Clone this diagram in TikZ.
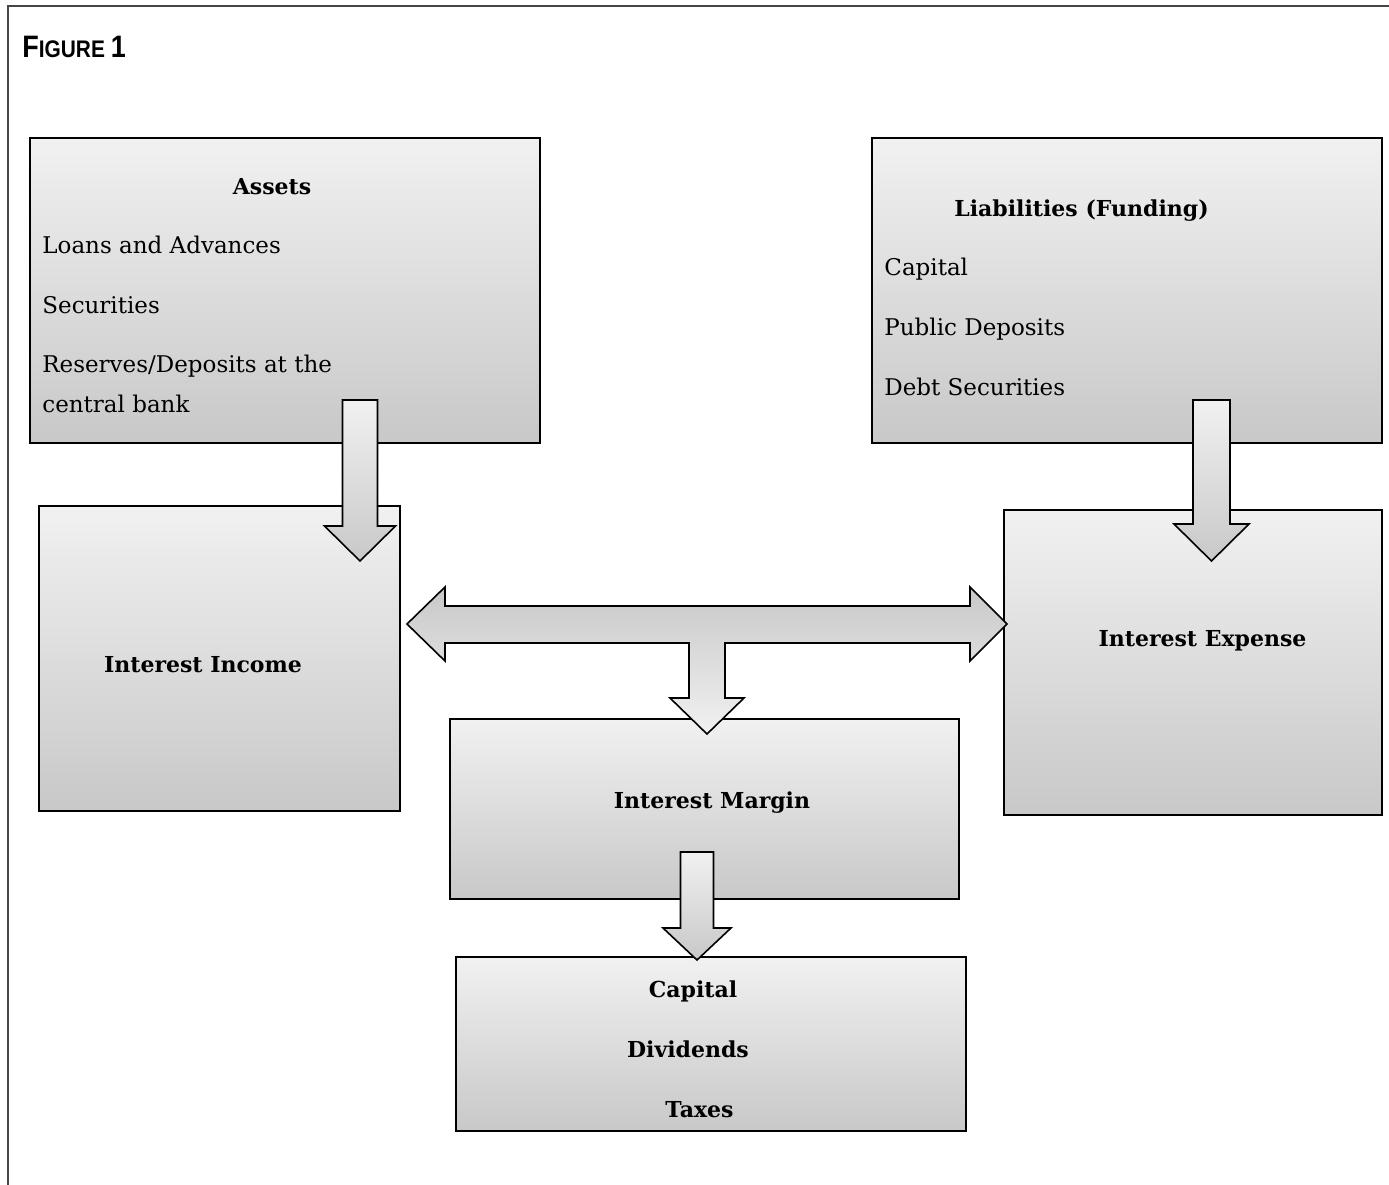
\documentclass[tikz,border=0pt]{standalone}
\usepackage{fontspec}
\setmainfont{DejaVu Serif}
\newfontfamily\titlefont{Liberation Sans}

\definecolor{boxtop}{RGB}{241,241,241}
\definecolor{boxbottom}{RGB}{200,200,200}
\definecolor{framegray}{RGB}{70,70,70}

\tikzset{
  box/.style={draw=black, line width=0.8pt, rectangle, inner sep=0pt,
    top color=boxtop, bottom color=boxbottom},
  item/.style={anchor=base west, inner sep=0pt, font=\fontsize{11.5}{13}\selectfont},
  heading/.style={anchor=base, inner sep=0pt, font=\fontsize{11}{13}\selectfont\bfseries},
  blockarrow/.style={draw=black, line width=0.8pt, line join=miter,
    top color=boxtop, bottom color=boxbottom},
}

% downward block arrow: centre x, top, shoulder, tip, half shaft, half head
\newcommand{\downblock}[6]{%
  \path[blockarrow] (#1-#5,#2) -- (#1+#5,#2) -- (#1+#5,#3) -- (#1+#6,#3)
    -- (#1,#4) -- (#1-#6,#3) -- (#1-#5,#3) -- cycle;}

\begin{document}
\begin{tikzpicture}[x=0.5pt, y=-0.5pt]
\useasboundingbox (0,0) rectangle (1389,1185);

% frame
\draw[framegray, line width=1pt] (8,1185) -- (8,6) -- (1389,6);
\node[anchor=base west, inner sep=0pt] (title) at (22,57)
  {\scalebox{0.87}[1]{\titlefont\bfseries\fontsize{15.5}{16}\selectfont F\fontsize{12}{12}\selectfont IGURE \fontsize{15.5}{16}\selectfont 1}};

% boxes
\node[box, minimum width=255pt, minimum height=152.5pt] (assets) at (285,290.5) {};
\node[box, minimum width=255pt, minimum height=152.5pt] (liab) at (1127,290.5) {};
\node[box, minimum width=180.5pt, minimum height=152.5pt] (income) at (219.5,658.5) {};
\node[box, minimum width=189pt, minimum height=152.5pt] (expense) at (1193,662.5) {};
\node[box, minimum width=254.5pt, minimum height=90pt] (margin) at (704.5,809) {};
\node[box, minimum width=255pt, minimum height=87pt] (payout) at (711,1044) {};

% arrows
\downblock{360}{400}{526}{561}{17.5}{35.5}
\downblock{1211.5}{400}{524}{561}{18.5}{37.5}
\downblock{697}{852}{928}{960}{16.5}{34}
\path[blockarrow, top color=boxbottom, bottom color=boxtop]
  (407,624) -- (445,587) -- (445,606) -- (970,606) -- (970,587) -- (1007,624)
  -- (970,661) -- (970,643) -- (725,643) -- (725,698) -- (744,698) -- (707,734)
  -- (670,698) -- (689,698) -- (689,643) -- (445,643) -- (445,661) -- cycle;

% texts
\node[heading] (assetshead) at (272,194) {Assets};
\node[item] (loans) at (42,253) {Loans and Advances};
\node[item] (secs) at (42,313) {Securities};
\node[item] (reserves) at (42,372) {Reserves/Deposits at the};
\node[item] (cbank) at (42,412) {central bank};

\node[heading, anchor=base west] (liabhead) at (954,216) {Liabilities (Funding)};
\node[item] (capital) at (884,275) {Capital};
\node[item] (deposits) at (884,335) {Public Deposits};
\node[item] (debt) at (884,395) {Debt Securities};

\node[heading] (incomehead) at (203,672) {Interest Income};
\node[heading] (expensehead) at (1202.5,646) {Interest Expense};
\node[heading] (marginhead) at (712,808) {Interest Margin};

\node[heading] (capitalout) at (693,997) {Capital};
\node[heading] (dividends) at (688,1057) {Dividends};
\node[heading] (taxes) at (699.5,1117) {Taxes};
\end{tikzpicture}
\end{document}
